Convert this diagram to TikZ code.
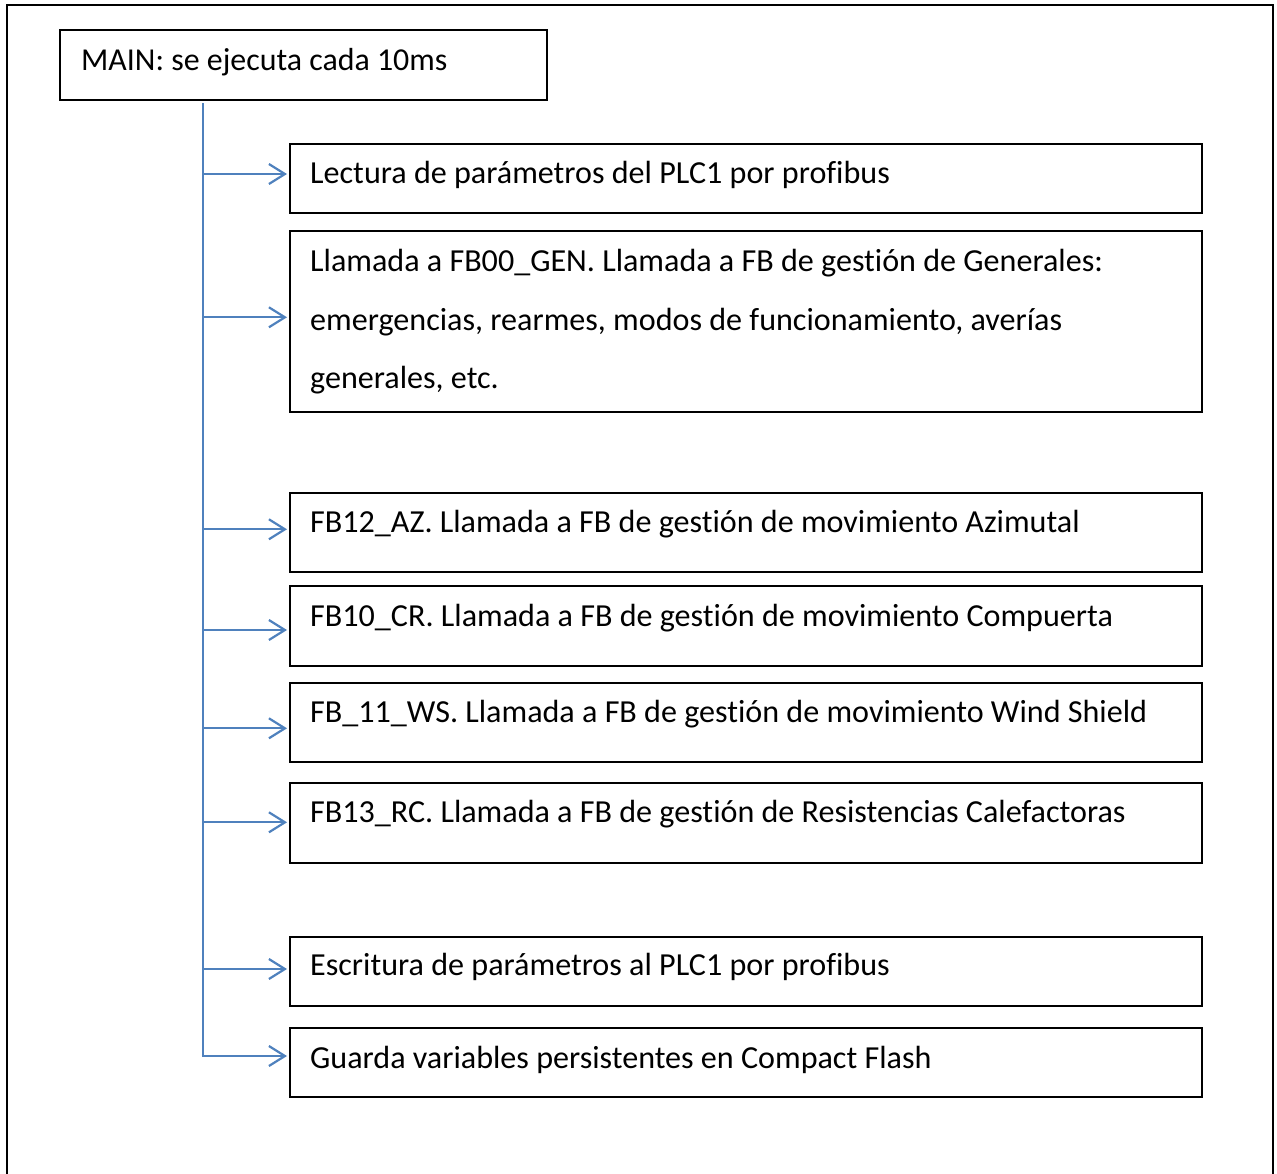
\documentclass[tikz,border=0pt]{standalone}
\usepackage{fontspec}
\setmainfont{Carlito}[Ligatures=NoCommon]
\usetikzlibrary{arrows.meta}
\definecolor{spineblue}{HTML}{4F81BD}
\tikzset{
  boxshape/.style={draw=black, line width=1.5pt, rectangle, inner sep=0pt, anchor=north west, minimum width=912pt},
  lbl/.style={inner sep=0pt, anchor=base west, font=\fontsize{32.1}{38}\selectfont},
  mainlbl/.style={inner sep=0pt, anchor=base west, font=\fontsize{31.9}{38}\selectfont},
  spine/.style={draw=spineblue, line width=2.2pt},
  arr/.style={draw=spineblue, line width=2.2pt, -{Straight Barb[length=16pt,width=20pt,line width=2.2pt]}},
}
\begin{document}
\begin{tikzpicture}[x=1pt,y=-1pt]
\useasboundingbox (0,0) rectangle (1277,1173);
% outer frame (open at bottom)
\draw[line width=2.5pt] (7,1180) -- (7,5) -- (1273,5) -- (1273,1180);
% main box
\node[draw=black, line width=1.5pt, rectangle, inner sep=0pt, anchor=north west, minimum width=487pt, minimum height=70pt] (main) at (59,29) {};
\node[mainlbl] (tmain) at (81,70.7) {MAIN: se ejecuta cada 10ms};
% boxes
\node[boxshape, minimum height=69pt] (b1) at (289,143) {};
\node[boxshape, minimum height=181pt] (b2) at (289,230) {};
\node[boxshape, minimum height=79pt] (b3) at (289,492) {};
\node[boxshape, minimum height=80pt] (b4) at (289,585) {};
\node[boxshape, minimum height=79pt] (b5) at (289,682) {};
\node[boxshape, minimum height=80pt] (b6) at (289,782) {};
\node[boxshape, minimum height=69pt] (b7) at (289,936) {};
\node[boxshape, minimum height=69pt] (b8) at (289,1027) {};
% texts
\node[lbl] (t1) at (310,183.3) {Lectura de parámetros del PLC1 por profibus};
\node[lbl] (t2a) at (310,271.7) {Llamada a FB00\_GEN. Llamada a FB de gestión de Generales:};
\node[lbl] (t2b) at (310,330) {emergencias, rearmes, modos de funcionamiento, averías};
\node[lbl] (t2c) at (310,388.3) {generales, etc.};
\node[lbl] (t3) at (310,532.3) {FB12\_AZ. Llamada a FB de gestión de movimiento Azimutal};
\node[lbl] (t4) at (310,626) {FB10\_CR. Llamada a FB de gestión de movimiento Compuerta};
\node[lbl] (t5) at (310,722) {FB\_11\_WS. Llamada a FB de gestión de movimiento Wind Shield};
\node[lbl] (t6) at (310,822) {FB13\_RC. Llamada a FB de gestión de Resistencias Calefactoras};
\node[lbl] (t7) at (310,975) {Escritura de parámetros al PLC1 por profibus};
\node[lbl] (t8) at (310,1068) {Guarda variables persistentes en Compact Flash};
% spine
\coordinate (top) at (203,103);
\coordinate (s1) at (203,174);
\coordinate (s2) at (203,317.3);
\coordinate (s3) at (203,529.3);
\coordinate (s4) at (203,630);
\coordinate (s5) at (203,728.3);
\coordinate (s6) at (203,822.3);
\coordinate (s7) at (203,969);
\coordinate (s8) at (203,1056);
\draw[spine] (top) -- (s8);
\foreach \i in {1,...,7}{
  \draw[arr] (s\i) -- ([xshift=-2pt]s\i -| b\i.west);
}
\draw[arr] ([xshift=-1.1pt]s8) -- ([xshift=-2pt]s8 -| b8.west);
\end{tikzpicture}
\end{document}
